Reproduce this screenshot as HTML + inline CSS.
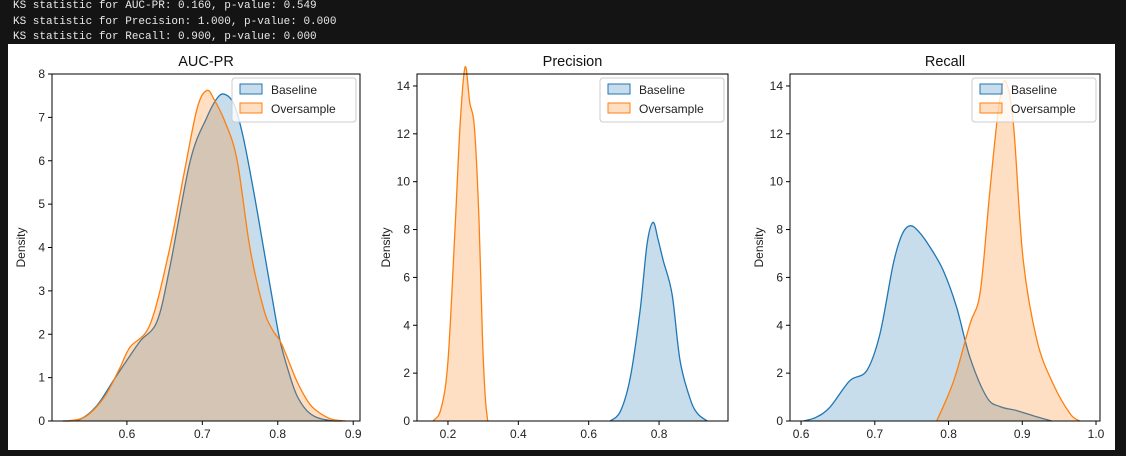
<!DOCTYPE html>
<html><head><meta charset="utf-8"><style>
body{margin:0;background:#141414;width:1126px;height:456px;overflow:hidden;font-family:"Liberation Sans",sans-serif}
#log{position:absolute;left:13px;top:-1px;font-family:"Liberation Mono",monospace;font-size:11px;color:#e8e8e8;line-height:15.5px;white-space:pre}
#fig{position:absolute;left:8px;top:44px;width:1107px;height:406px;background:#fff}
svg{position:absolute;left:0;top:0}
</style></head><body>
<div id="log"><div>KS statistic for AUC-PR: 0.160, p-value: 0.549</div><div>KS statistic for Precision: 1.000, p-value: 0.000</div><div>KS statistic for Recall: 0.900, p-value: 0.000</div></div>
<div id="fig"></div>
<svg id="chart" width="1126" height="456"></svg>
<script>
const titles=["AUC-PR","Precision","Recall"];
const aucBaseX=[0.515,0.538,0.56,0.582,0.60,0.618,0.64,0.657,0.684,0.706,0.72,0.730,0.742,0.754,0.768,0.781,0.792,0.803,0.815,0.825,0.838,0.852,0.87,0.885];
const aucBaseY=[0,0.04,0.35,0.93,1.4,1.85,2.3,3.55,6.0,7.0,7.45,7.53,7.3,6.56,5.3,4.0,2.9,1.85,1.1,0.6,0.25,0.08,0.01,0];
const aucOverX=[0.52,0.545,0.57,0.59,0.604,0.631,0.657,0.675,0.693,0.706,0.716,0.73,0.746,0.763,0.781,0.793,0.805,0.825,0.84,0.852,0.87,0.89];
const aucOverY=[0,0.1,0.55,1.2,1.7,2.24,4.0,5.64,7.2,7.62,7.4,6.9,6.02,4.0,2.6,2.1,1.78,0.93,0.45,0.23,0.05,0];
const precBaseX=[0.661,0.69,0.718,0.746,0.766,0.783,0.797,0.812,0.837,0.86,0.889,0.91,0.937];
const precBaseY=[0,0.4,1.8,4.6,7.4,8.3,7.6,6.7,5.3,2.5,0.9,0.3,0];
const precOverX=[0.157,0.18,0.2,0.22,0.235,0.249,0.262,0.275,0.288,0.298,0.306,0.313];
const precOverY=[0,0.5,2.5,8,12.5,14.8,13.3,12.3,8.5,3.5,1,0];
const recBaseX=[0.603,0.62,0.639,0.666,0.689,0.707,0.725,0.737,0.748,0.76,0.775,0.793,0.811,0.829,0.852,0.87,0.893,0.92,0.94];
const recBaseY=[0,0.15,0.57,1.68,2.1,3.64,6.56,7.8,8.16,7.9,7.26,6.28,4.75,2.66,0.99,0.6,0.43,0.17,0];
const recOverX=[0.784,0.807,0.829,0.843,0.856,0.868,0.877,0.888,0.901,0.92,0.942,0.965,0.978];
const recOverY=[0,1.68,4.05,5.4,9.6,13.1,14.2,12.4,6.8,3.36,1.54,0.3,0];
const xTicks=[[0.6,0.7,0.8,0.9],[0.2,0.4,0.6,0.8],[0.6,0.7,0.8,0.9,1.0]];
const yTicks=[[0,1,2,3,4,5,6,7,8],[0,2,4,6,8,10,12,14],[0,2,4,6,8,10,12,14]];
const xLims=[[0.5007,0.909],[0.112,0.996],[0.585,1.0054]];
const yLims=[[0,8],[0,14.5],[0,14.5]];
const series=[[[aucBaseX,aucBaseY],[aucOverX,aucOverY]],[[precBaseX,precBaseY],[precOverX,precOverY]],[[recBaseX,recBaseY],[recOverX,recOverY]]];
{
const lefts=[52,417,790],widths=[308,311,310],TOP=74,BOT=421;
const NS="http://www.w3.org/2000/svg",svg=document.getElementById('chart');
function mk(t,a,p){const e=document.createElementNS(NS,t);for(const k in a)e.setAttribute(k,a[k]);(p||svg).appendChild(e);return e;}
const cols=["#1f77b4","#ff7f0e"],names=["Baseline","Oversample"];
function smooth(pts){let d=`M${pts[0][0]},${pts[0][1]}`;for(let i=0;i<pts.length-1;i++){const p0=pts[Math.max(0,i-1)],p1=pts[i],p2=pts[i+1],p3=pts[Math.min(pts.length-1,i+2)];
d+=` C${p1[0]+(p2[0]-p0[0])/6},${p1[1]+(p2[1]-p0[1])/6} ${p2[0]-(p3[0]-p1[0])/6},${p2[1]-(p3[1]-p1[1])/6} ${p2[0]},${p2[1]}`;}return d;}
for(let p=0;p<3;p++){
 const L=lefts[p],W=widths[p],xs=v=>L+(v-xLims[p][0])/(xLims[p][1]-xLims[p][0])*W,ys=v=>BOT-(v-yLims[p][0])/(yLims[p][1]-yLims[p][0])*(BOT-TOP);
 const g=mk('g',{});
 
 
 series[p].forEach((s,si)=>{
  const pts=s[0].map((x,i)=>[xs(x),ys(s[1][i])]);
  const d=smooth(pts);
  const f=mk('path',{d:d+` L${pts[pts.length-1][0]},${BOT} L${pts[0][0]},${BOT} Z`,fill:cols[si],'fill-opacity':0.25,stroke:'none'},g);
  
  
  const l=mk('path',{d:d,fill:'none',stroke:cols[si],'stroke-width':1.3},g);
  
  
 });
 const fr=mk('rect',{x:L,y:TOP,width:W,height:BOT-TOP,fill:'none',stroke:'#000','stroke-width':1},g);
 
 
 xTicks[p].forEach(v=>{const x=xs(v);mk('line',{x1:x,x2:x,y1:BOT,y2:BOT+4,stroke:'#000'},g);
  const t=mk('text',{x:x,y:BOT+17,'text-anchor':'middle','font-size':12,fill:'#222'},g);t.textContent=v.toFixed(1);
  });
 yTicks[p].forEach(v=>{const y=ys(v);mk('line',{x1:L-4,x2:L,y1:y,y2:y,stroke:'#000'},g);
  const t=mk('text',{x:L-7,y:y+4,'text-anchor':'end','font-size':12,fill:'#222'},g);t.textContent=v;
  });
 const tt=mk('text',{x:L+W/2,y:66,'text-anchor':'middle','font-size':14.5,fill:'#111'},g);tt.textContent=titles[p];
 
 const yl=mk('text',{x:0,y:0,transform:`translate(${L-27},${(TOP+BOT)/2}) rotate(-90)`,'text-anchor':'middle','font-size':12,fill:'#222'},g);yl.textContent='Density';
 
 const lg=mk('g',{},g);
 
 
 const lx=L+W-128;
 mk('rect',{x:lx,y:78,width:124,height:44,rx:3,fill:'#fff','fill-opacity':0.8,stroke:'#ccc'},lg);
 names.forEach((n,i)=>{
  mk('rect',{x:lx+8,y:84+i*19,width:22,height:10,fill:cols[i],'fill-opacity':0.25,stroke:cols[i]},lg);
  const t=mk('text',{x:lx+39,y:94+i*19,'font-size':12,fill:'#222'},lg);t.textContent=n;
  
 });
}
}
</script>
</body></html>
